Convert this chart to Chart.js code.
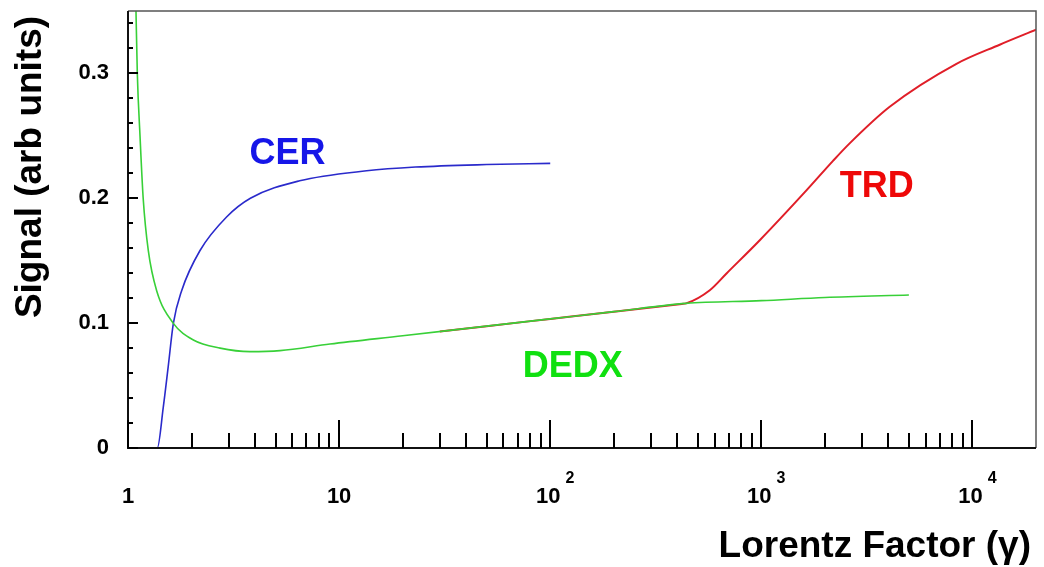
<!DOCTYPE html>
<html>
<head>
<meta charset="utf-8">
<title>Signal vs Lorentz Factor</title>
<script src="https://cdn.jsdelivr.net/npm/chart.js@4.4.0/dist/chart.umd.min.js"></script>
<style>
  html, body { margin: 0; padding: 0; background: #fff; }
  #signalChart { display: block; }
</style>
</head>
<body>
<canvas id="signalChart" width="1044" height="567"></canvas>
<script>
// values: Lorentz factor (gamma) -> signal (arb units)
const dedxGamma = [1.076, 1.091, 1.107, 1.14, 1.18, 1.248, 1.367, 1.64, 2.04, 2.73, 3.78, 5.25, 9.05, 20, 50, 100, 200, 440, 1000, 2000, 5000];
const dedxSignal = [0.40, 0.35, 0.30, 0.25, 0.20, 0.158, 0.126, 0.0998, 0.0865, 0.080, 0.0772, 0.078, 0.0833, 0.0899, 0.0976, 0.1034, 0.1092, 0.1158, 0.118, 0.1205, 0.1225];

const cerGamma = [1.30, 1.376, 1.47, 1.55, 1.64, 1.795, 2.19, 2.93, 3.8, 6.5, 13.5, 23, 50, 100];
const cerSignal = [0, 0, 0.033, 0.065, 0.0998, 0.126, 0.158, 0.185, 0.200, 0.214, 0.222, 0.225, 0.227, 0.228];

const trdGamma = [30, 50, 100, 200, 420, 440, 570, 684, 983, 1635, 2185, 2620, 4055, 8400, 13460, 20000];
const trdSignal = [0.0933, 0.0976, 0.1034, 0.1092, 0.1154, 0.1158, 0.1264, 0.1398, 0.1664, 0.2063, 0.230, 0.244, 0.2733, 0.3077, 0.323, 0.335];

// axis ticks
const xMajorTicks = [1, 10, 100, 1000, 10000];
const xTickLabels = ["1", "10", "10", "10", "10"];
const xTickExponents = ["", "", "2", "3", "4"];
const xMinorFactors = [2, 3, 4, 5, 6, 7, 8, 9];
const yMajorTicks = [0, 0.1, 0.2, 0.3];
const yTickLabels = ["0", "0.1", "0.2", "0.3"];
const yMinorStep = 0.02;

// curve names, anchored in data units
const curveLabels = [
  { text: "CER", gamma: 5.7, signal: 0.2272, color: "#1616e8" },
  { text: "TRD", gamma: 3517, signal: 0.2007, color: "#ee0808" },
  { text: "DEDX", gamma: 128, signal: 0.0565, color: "#10e010" },
];

const FONT = "'Liberation Sans', Arial, Helvetica, sans-serif";

const toPoints = (xs, ys) => xs.map((x, i) => ({ x: x, y: ys[i] }));

// frame, inward ticks, tick labels, titles
const framePlugin = {
  id: "frame",
  afterDatasetsDraw(chart) {
    const { ctx, chartArea: a, scales } = chart;
    const x = scales.x;
    const y = scales.y;
    ctx.save();

    ctx.strokeStyle = "#555";
    ctx.lineWidth = 1.5;
    ctx.beginPath();
    ctx.moveTo(a.left, a.top);
    ctx.lineTo(a.right, a.top);
    ctx.lineTo(a.right, a.bottom);
    ctx.stroke();

    ctx.strokeStyle = "#111";
    ctx.lineWidth = 2;
    ctx.beginPath();
    ctx.moveTo(a.left, a.top);
    ctx.lineTo(a.left, a.bottom);
    ctx.lineTo(a.right, a.bottom);
    ctx.stroke();

    // x ticks
    ctx.strokeStyle = "#000";
    ctx.lineWidth = 2;
    ctx.beginPath();
    xMajorTicks.forEach((v) => {
      const px = Math.round(x.getPixelForValue(v));
      ctx.moveTo(px, a.bottom);
      ctx.lineTo(px, a.bottom - 28);
      xMinorFactors.forEach((f) => {
        if (v * f < x.max) {
          const mx = Math.round(x.getPixelForValue(v * f));
          ctx.moveTo(mx, a.bottom);
          ctx.lineTo(mx, a.bottom - 15);
        }
      });
    });
    // y ticks
    for (let k = 0; k * yMinorStep <= y.max + 1e-9; k++) {
      const py = Math.round(y.getPixelForValue(k * yMinorStep));
      ctx.moveTo(a.left, py);
      ctx.lineTo(a.left + 5, py);
    }
    yMajorTicks.forEach((v) => {
      const py = Math.round(y.getPixelForValue(v));
      ctx.moveTo(a.left, py);
      ctx.lineTo(a.left + 10, py);
    });
    ctx.stroke();

    // tick labels
    ctx.fillStyle = "#000";
    ctx.font = "bold 22px " + FONT;
    ctx.textAlign = "right";
    ctx.textBaseline = "middle";
    yMajorTicks.forEach((v, i) => {
      ctx.fillText(yTickLabels[i], a.left - 19, y.getPixelForValue(v));
    });

    ctx.textBaseline = "alphabetic";
    xMajorTicks.forEach((v, i) => {
      const px = x.getPixelForValue(v);
      ctx.font = "bold 22px " + FONT;
      if (!xTickExponents[i]) {
        ctx.textAlign = "center";
        ctx.fillText(xTickLabels[i], px, 503);
      } else {
        const w = ctx.measureText(xTickLabels[i]).width;
        ctx.textAlign = "left";
        const start = px - w / 2 - 2;
        ctx.fillText(xTickLabels[i], start, 503);
        ctx.font = "bold 16px " + FONT;
        ctx.fillText(xTickExponents[i], start + w + 5, 483);
      }
    });

    // axis titles
    ctx.font = "bold 37px " + FONT;
    ctx.textAlign = "right";
    ctx.fillText("Lorentz Factor (\u03b3)", 1031, 557);

    ctx.save();
    ctx.translate(41, 167);
    ctx.rotate(-Math.PI / 2);
    ctx.textAlign = "center";
    ctx.fillText("Signal (arb units)", 0, 0);
    ctx.restore();

    // curve names
    ctx.font = "bold 36px " + FONT;
    ctx.textAlign = "center";
    curveLabels.forEach((l) => {
      ctx.fillStyle = l.color;
      ctx.fillText(l.text, x.getPixelForValue(l.gamma), y.getPixelForValue(l.signal));
    });

    ctx.restore();
  },
};

const chartSignal = new Chart(document.getElementById("signalChart"), {
  type: "scatter",
  data: {
    datasets: [
      {
        label: "DEDX",
        data: toPoints(dedxGamma, dedxSignal),
        borderColor: "#38d038",
        borderWidth: 1.6,
      },
      {
        label: "CER",
        data: toPoints(cerGamma, cerSignal),
        borderColor: "#2a2acb",
        borderWidth: 1.6,
      },
      {
        label: "TRD",
        data: toPoints(trdGamma, trdSignal),
        borderColor: "#e01e28",
        borderWidth: 2,
      },
    ],
  },
  options: {
    responsive: false,
    animation: false,
    datasets: {
      scatter: {
        showLine: true,
        pointRadius: 0,
        pointHoverRadius: 0,
        cubicInterpolationMode: "monotone",
        fill: false,
      },
    },
    layout: {
      padding: { left: 128, top: 11, right: 8, bottom: 119 },
    },
    plugins: {
      legend: { display: false },
      tooltip: { enabled: false },
    },
    scales: {
      x: { type: "logarithmic", min: 1, max: 20000, display: false },
      y: { type: "linear", min: 0, max: 0.35, display: false },
    },
  },
  plugins: [framePlugin],
});
</script>
</body>
</html>
